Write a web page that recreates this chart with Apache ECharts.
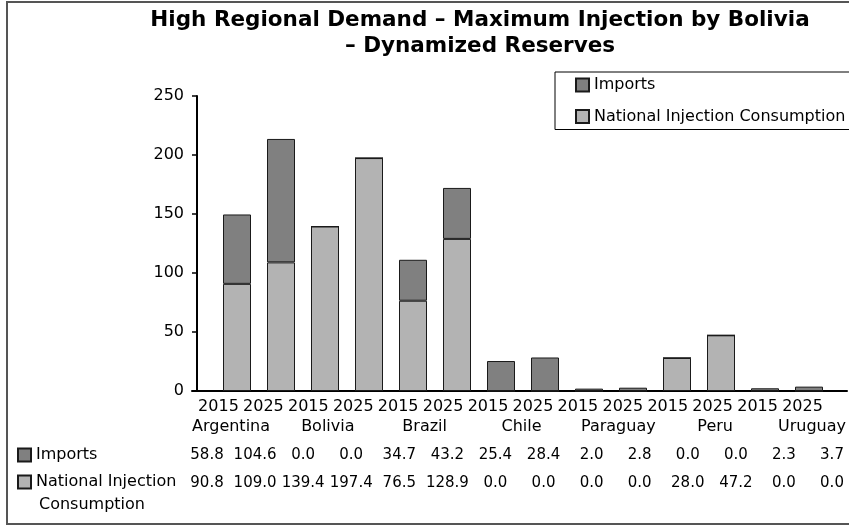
<!DOCTYPE html>
<html>
<head>
<meta charset="utf-8">
<script src="https://cdn.jsdelivr.net/npm/echarts@6/dist/echarts.min.js"></script>
<style>
  html, body { margin: 0; padding: 0; background: #fff; }
  #chart { width: 849px; height: 527px; }
</style>
</head>
<body>
<div id="chart"></div>
<script>
const years = ['2015', '2025', '2015', '2025', '2015', '2025', '2015', '2025', '2015', '2025', '2015', '2025', '2015', '2025']
const countries = ['Argentina', 'Bolivia', 'Brazil', 'Chile', 'Paraguay', 'Peru', 'Uruguay']
const imports = [58.8, 104.6, 0.0, 0.0, 34.7, 43.2, 25.4, 28.4, 2.0, 2.8, 0.0, 0.0, 2.3, 3.7]
const national = [90.8, 109.0, 139.4, 197.4, 76.5, 128.9, 0.0, 0.0, 0.0, 0.0, 28.0, 47.2, 0.0, 0.0]
const yMax = 250
const yStep = 50

const FONT = 'DejaVu Sans'
const seriesNames = ['Imports', 'National Injection Consumption']
// table cells: one column per bar, imports on top line, national below
const tableCells = imports.map((v, i) => v.toFixed(1) + '\n' + national[i].toFixed(1))

const chart = echarts.init(document.getElementById('chart'))

// all grids share the same vertical extent so every x axis sits on the same baseline
const gTop = 96
const gBottom = 136

chart.setOption({
  animation: false,
  textStyle: { fontFamily: FONT, color: '#000' },
  title: {
    text: 'High Regional Demand – Maximum Injection by Bolivia\n– Dynamized Reserves',
    left: 480,
    top: 7,
    padding: 0,
    textAlign: 'center',
    textStyle: { fontFamily: FONT, fontSize: 21.5, fontWeight: 'bold', lineHeight: 26, color: '#000' }
  },
  legend: [
    {
      data: seriesNames,
      orient: 'vertical',
      left: 555,
      top: 72,
      padding: [4, 8, 4, 20],
      itemWidth: 13,
      itemHeight: 13,
      itemGap: 13.5,
      itemTextGap: 8,
      icon: 'rect',
      selectedMode: false,
      borderColor: '#000',
      borderWidth: 1,
      textStyle: { fontFamily: FONT, fontSize: 16, lineHeight: 18, color: '#000' }
    },
    {
      // row headers of the data table
      data: seriesNames,
      orient: 'vertical',
      left: 17,
      top: 446,
      padding: 0,
      itemWidth: 13,
      itemHeight: 13,
      itemGap: 9,
      itemTextGap: 11,
      icon: 'rect',
      selectedMode: false,
      formatter: name => name === 'National Injection Consumption' ? 'National Injection' : name,
      textStyle: { fontFamily: FONT, fontSize: 16, lineHeight: 18, color: '#000' }
    }
  ],
  grid: [
    { left: 215, width: 616, top: gTop, bottom: gBottom }, // bars
    { left: 196, width: 629, top: gTop, bottom: gBottom }, // year labels
    { left: 231, width: 584, top: gTop, bottom: gBottom }, // country labels
    { left: 207, width: 625, top: gTop, bottom: gBottom }, // table values
    { left: 192, right: 2, top: gTop, bottom: gBottom } // baseline
  ],
  xAxis: [
    {
      gridIndex: 0, type: 'category', data: years,
      axisLine: { show: false }, axisTick: { show: false }, axisLabel: { show: false }
    },
    {
      gridIndex: 1, type: 'category', data: years,
      axisLine: { show: false }, axisTick: { show: false },
      axisLabel: { interval: 0, margin: 8, fontSize: 16, color: '#000', fontFamily: FONT }
    },
    {
      gridIndex: 2, type: 'category', data: countries, boundaryGap: false,
      axisLine: { show: false }, axisTick: { show: false },
      axisLabel: { interval: 0, margin: 28, fontSize: 16, color: '#000', fontFamily: FONT }
    },
    {
      gridIndex: 3, type: 'category', data: tableCells, boundaryGap: false,
      axisLine: { show: false }, axisTick: { show: false },
      axisLabel: { interval: 0, margin: 50, fontSize: 15, lineHeight: 28, color: '#000', fontFamily: FONT }
    },
    {
      gridIndex: 4, type: 'value', min: 0, max: 1,
      axisLine: { show: true, lineStyle: { color: '#000', width: 2 } },
      axisTick: { show: false }, axisLabel: { show: false }, splitLine: { show: false }
    }
  ],
  yAxis: [
    {
      gridIndex: 0, type: 'value', min: 0, max: yMax, interval: yStep,
      offset: 18,
      axisLine: { show: true, lineStyle: { color: '#000', width: 2 } },
      axisTick: { show: true, length: 5, lineStyle: { color: '#000', width: 1.5 } },
      splitLine: { show: false },
      axisLabel: { margin: 13, fontSize: 16, color: '#000', fontFamily: FONT }
    },
    { gridIndex: 1, type: 'value', show: false },
    { gridIndex: 2, type: 'value', show: false },
    { gridIndex: 3, type: 'value', show: false },
    { gridIndex: 4, type: 'value', show: false }
  ],
  series: [
    {
      name: 'National Injection Consumption',
      type: 'bar',
      stack: 'total',
      xAxisIndex: 0,
      yAxisIndex: 0,
      barWidth: 28,
      data: national,
      itemStyle: { color: '#b3b3b3', borderColor: '#1a1a1a', borderWidth: 1 }
    },
    {
      name: 'Imports',
      type: 'bar',
      stack: 'total',
      xAxisIndex: 0,
      yAxisIndex: 0,
      barWidth: 28,
      data: imports,
      itemStyle: { color: '#808080', borderColor: '#1a1a1a', borderWidth: 1 }
    }
  ],
  graphic: [
    {
      type: 'rect',
      silent: true,
      shape: { x: 7, y: 2, width: 850, height: 522 },
      style: { fill: 'none', stroke: '#555', lineWidth: 2 }
    },
    {
      type: 'text',
      left: 39,
      top: 497,
      style: { text: 'Consumption', font: '16px "DejaVu Sans"', fill: '#000' }
    }
  ]
})
</script>
</body>
</html>
